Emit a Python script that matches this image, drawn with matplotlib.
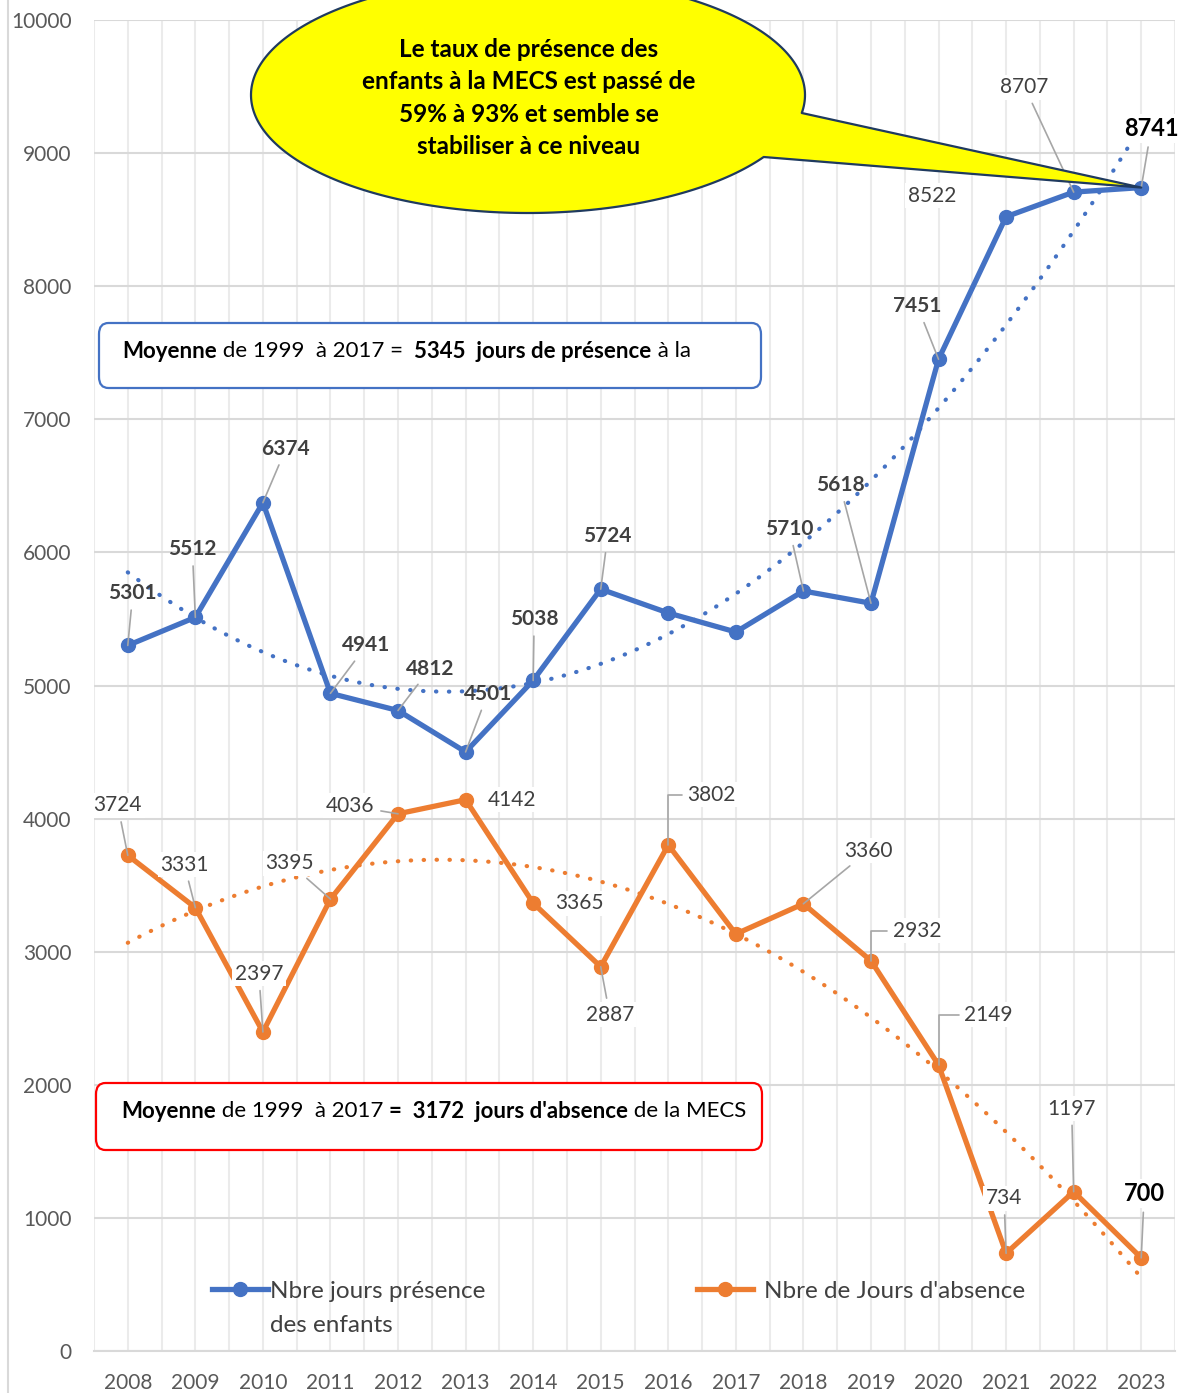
import numpy as np
import matplotlib
matplotlib.use("Agg")
import matplotlib.pyplot as plt
from matplotlib.patches import FancyBboxPatch, Polygon
from matplotlib.lines import Line2D

# ---------------- data ----------------
years = ['2008', '2009', '2010', '2011', '2012', '2013', '2014', '2015',
         '2016', '2017', '2018', '2019', '2020', '2021', '2022', '2023']
presence = [5301, 5512, 6374, 4941, 4812, 4501, 5038, 5724,
            5545, 5402, 5710, 5618, 7451, 8522, 8707, 8741]
absence = [3724, 3331, 2397, 3395, 4036, 4142, 3365, 2887,
           3802, 3133, 3360, 2932, 2149, 734, 1197, 700]
presence_labels = ['5301', '5512', '6374', '4941', '4812', '4501', '5038', '5724',
                   '', '', '5710', '5618', '7451', '8522', '8707', '8741']
absence_labels = ['3724', '3331', '2397', '3395', '4036', '4142', '3365', '2887',
                  '3802', '', '3360', '2932', '2149', '734', '1197', '700']
yticks = [0, 1000, 2000, 3000, 4000, 5000, 6000, 7000, 8000, 9000, 10000]
series_names = ["Nbre jours présence", "Nbre de Jours d'absence"]
legend_second_line = "des enfants"
callout_text = ("Le taux de présence des\nenfants à la MECS est passé de\n"
                "59% à 93% et semble se\nstabiliser à ce niveau")
box_presence_parts = [("Moyenne", "bold"), (" de 1999  à 2017 =  ", "normal"),
                      ("5345  jours de présence", "bold"), (" à la", "normal")]
box_absence_parts = [("Moyenne", "bold"), (" de 1999  à 2017 ", "normal"),
                     ("=  3172  jours d'absence", "bold"), (" de la MECS", "normal")]

# ---------------- style / layout ----------------
BLUE = '#4472C4'
ORANGE = '#ED7D31'
W, H = 1180, 1393
plt.rcParams['font.family'] = ['Lato', 'DejaVu Sans']

fig = plt.figure(figsize=(W / 100, H / 100), dpi=100)
ax = fig.add_axes([94 / W, 1 - 1351 / H, (1175 - 94) / W, (1351 - 20) / H])

x = np.arange(len(years))
ax.set_xlim(-0.5, len(years) - 0.5)
ax.set_ylim(0, 10000)

# grid
ax.set_xticks(x)
ax.set_xticks(np.arange(-0.5, len(years), 1.0), minor=True)
ax.set_xticklabels(years)
ax.set_yticks(yticks)
ax.set_yticklabels([str(v) for v in yticks])
ax.grid(axis='x', which='both', color='#EBEBEB', lw=1.5, zorder=0)
ax.grid(axis='y', which='major', color='#D9D9D9', lw=1.5, zorder=0)
ax.set_axisbelow(True)
for s in ['top', 'right', 'left']:
    ax.spines[s].set_visible(False)
ax.spines['bottom'].set_color('#D9D9D9')
ax.spines['bottom'].set_linewidth(1.5)
ax.tick_params(axis='both', which='both', length=0, labelsize=15, labelcolor='#595959')
ax.tick_params(axis='x', pad=15.5)
ax.tick_params(axis='y', pad=16)

# trend lines (polynomial fits of the data)
xf = np.linspace(0, len(years) - 1, 200)
cp = np.polyfit(x, presence, 2)
ca = np.polyfit(x, absence, 2)
dot = (0, (0.1, 3))
ax.plot(xf, np.polyval(cp, xf), color=BLUE, lw=3, ls=dot, dash_capstyle='round', zorder=3)
ax.plot(xf, np.polyval(ca, xf), color=ORANGE, lw=3, ls=dot, dash_capstyle='round', zorder=3)

# data lines
lp, = ax.plot(x, presence, color=BLUE, lw=3.8, marker='o', ms=10, zorder=4)
la, = ax.plot(x, absence, color=ORANGE, lw=3.8, marker='o', ms=10, zorder=4)

# label offsets in pixels (dx, dy with y pointing down) and leader type
p_off = [(5, -52, 'line'), (-3, -68, 'line'), (23, -54, 'line'), (36, -48, 'line'),
         (32, -42, 'line'), (22, -58, 'line'), (1, -61, 'line'), (7, -53, 'line'),
         None, None, (-14, -62, 'line'), (-31, -118, 'line'), (-21, -53, 'line'),
         (-74, -21, None), (-49, -105, 'line'), (10, -59, 'line')]
a_off = [(-10, -50, 'line'), (-11, -43, 'line'), (-4, -58, 'line'), (-41, -36, 'line'),
         (-48, -8, 'line'), (46, 0, None), (46, 0, None), (9, 48, 'line'),
         (43, -50, 'elbow'), None, (65, -53, 'line'), (46, -30, 'elbow'),
         (50, -50, 'elbow'), (-2, -55, 'line'), (-2, -83, 'line'), (3, -64, 'line')]


def add_label(i, val, txt, off, weight, color, size, fill):
    if off is None or not txt:
        return
    dx, dy, kind = off
    bbox = dict(boxstyle='square,pad=0.12', fc=fill, ec='none')
    arrow = None
    if kind == 'line':
        arrow = dict(arrowstyle='-', color='#A6A6A6', lw=1.2, shrinkA=3, shrinkB=0)
    elif kind == 'elbow':
        arrow = dict(arrowstyle='-', color='#A6A6A6', lw=1.2, shrinkA=2, shrinkB=0,
                     connectionstyle='angle,angleA=0,angleB=90,rad=0', relpos=(0, 0.5))
    ax.annotate(txt, xy=(i, val), xytext=(dx, -dy), textcoords='offset pixels',
                ha='center', va='center', fontsize=size, fontweight=weight, color=color,
                bbox=bbox, arrowprops=arrow, zorder=6)


n = len(years)
for i in range(n):
    if i == n - 1:
        add_label(i, presence[i], presence_labels[i], p_off[i], 'bold', 'black', 17, 'white')
        add_label(i, absence[i], absence_labels[i], a_off[i], 'bold', 'black', 17, 'white')
    else:
        if i in (13, 14):
            add_label(i, presence[i], presence_labels[i], p_off[i], 'normal', '#404040', 15, 'white')
        else:
            add_label(i, presence[i], presence_labels[i], p_off[i], 'bold', '#404040', 15, 'none')
        add_label(i, absence[i], absence_labels[i], a_off[i], 'normal', '#404040', 15, 'white')

# legend
leg1 = ax.legend([lp], [series_names[0]], loc='center left',
                 bbox_to_anchor=(212 / W, 1 - 1291 / H), bbox_transform=fig.transFigure,
                 frameon=False, handlelength=2.3, handletextpad=0.1, borderpad=0,
                 borderaxespad=0, fontsize=17.5, labelcolor='#404040', numpoints=1)
ax.add_artist(leg1)
leg2 = ax.legend([la], [series_names[1]], loc='center left',
                 bbox_to_anchor=(697 / W, 1 - 1291 / H), bbox_transform=fig.transFigure,
                 frameon=False, handlelength=2.3, handletextpad=0.45, borderpad=0,
                 borderaxespad=0, fontsize=17.5, labelcolor='#404040', numpoints=1)
fig.text(270 / W, 1 - 1325 / H, legend_second_line, fontsize=17.5, color='#404040',
         ha='left', va='center')

# left border line of chart area
fig.add_artist(Line2D([8 / W, 8 / W], [0, 1], color='#D9D9D9', lw=1.5,
                      transform=fig.transFigure))


def fig_xy(px, py):
    return (px / W, 1 - py / H)


# average boxes
def avg_box(x0, y0, x1, y1, ec, tx, ty, parts):
    bx = FancyBboxPatch(fig_xy(x0, y1), (x1 - x0) / W, (y1 - y0) / H,
                        boxstyle='round,pad=0,rounding_size=0.008',
                        transform=fig.transFigure, fc='white', ec=ec, lw=1.6, zorder=10)
    fig.add_artist(bx)
    fig.canvas.draw()
    r = fig.canvas.get_renderer()
    cx = tx
    for s, w in parts:
        t = fig.text(cx / W, 1 - ty / H, s, fontsize=16, fontweight=w, color='black',
                     ha='left', va='center', zorder=11)
        bb = t.get_window_extent(r)
        cx = bb.x1


avg_box(99, 323, 761, 388, BLUE, 122, 351, box_presence_parts)
avg_box(96, 1083, 762, 1150, '#FF0000', 121, 1111, box_absence_parts)

# callout (ellipse with tail pointing to last presence value)
cx_, cy_, a_, b_ = 528, 95, 277, 118
t0 = np.arcsin((113 - cy_) / b_)
t1 = np.arcsin((157 - cy_) / b_)
ts = np.linspace(t1, t0 + 2 * np.pi, 300)
ex = cx_ + a_ * np.cos(ts)
ey = cy_ + b_ * np.sin(ts)
fig.canvas.draw()
tip = ax.transData.transform((n - 1, presence[-1]))
pts = [(tip[0] / W, tip[1] / H)] + [fig_xy(px, py) for px, py in zip(ex, ey)]
fig.add_artist(Polygon(pts, closed=True, fc='#FFFF00', ec='#1F3A5F', lw=1.6,
                       transform=fig.transFigure, zorder=10, joinstyle='round'))
fig.text(529 / W, 1 - 98 / H, callout_text, fontsize=17.5, fontweight='bold', color='black',
         ha='center', va='center', linespacing=1.5, zorder=11)

fig.savefig('out.png', dpi=100)
